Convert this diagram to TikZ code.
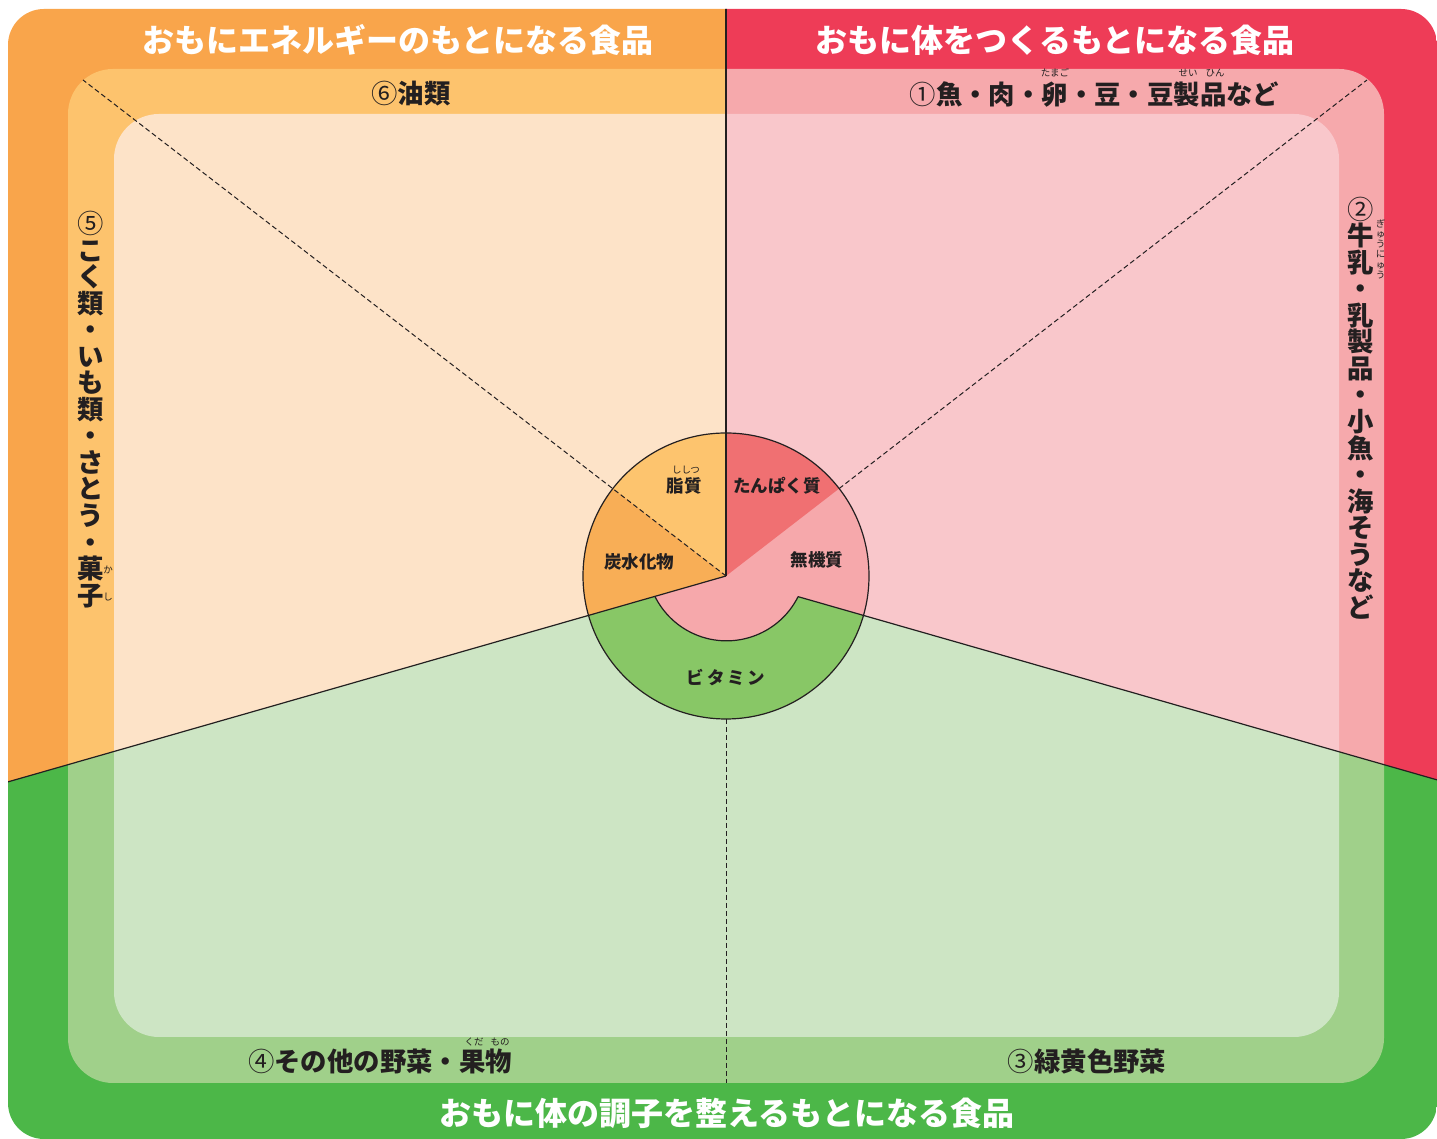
\documentclass[tikz,border=0pt]{standalone}
\usepackage{fontspec}
\newfontfamily\jp{Noto Sans CJK JP}
\usetikzlibrary{calc}
\definecolor{oA}{HTML}{F9A54B}
\definecolor{rA}{HTML}{EE3C57}
\definecolor{gA}{HTML}{4CB748}
\definecolor{oB}{HTML}{FDC36D}
\definecolor{rB}{HTML}{F6A9AC}
\definecolor{gB}{HTML}{A0D08A}
\definecolor{oC}{HTML}{FDE3C8}
\definecolor{rC}{HTML}{F9C7CB}
\definecolor{gC}{HTML}{CDE5C4}
\definecolor{fatc}{HTML}{FDC46E}
\definecolor{carbc}{HTML}{F8AE56}
\definecolor{protc}{HTML}{F07072}
\definecolor{minc}{HTML}{F6A8AB}
\definecolor{vitc}{HTML}{88C766}
\definecolor{ink}{HTML}{231F20}
\def\fillregions#1#2#3{%
  \fill[#1] (C) -- ($(C)+(196:1500)$) |- (726,2000) -- cycle;
  \fill[#2] (C) -- ($(C)+(-16:1500)$) |- (726,2000) -- cycle;
  \fill[#3] (C) -- ($(C)+(196:1500)$) -- (-800,-1000) -- (2300,-1000) -- ($(C)+(-16:1500)$) -- cycle;
}
\def\circnum#1{{\mdseries #1}}
\begin{document}
\begin{tikzpicture}[x=1pt,y=1pt,
  hdr/.style={text=white,font=\jp\bfseries\fontsize{32}{32}\selectfont,inner sep=0pt},
  lbl/.style={text=ink,font=\jp\bfseries\fontsize{26.4}{26.4}\selectfont,inner sep=0pt},
  vlbl/.style={text=ink,font=\jp\bfseries\fontsize{26.4}{26.55}\selectfont,inner sep=0pt,align=center},
  ruby/.style={text=ink,font=\jp\fontsize{9.5}{9.5}\selectfont,inner sep=0pt},
  pielbl/.style={text=ink,font=\jp\bfseries\fontsize{17.5}{17.5}\selectfont,inner sep=0pt},
  edgeline/.style={draw=ink,line width=1.2pt},
  dashline/.style={draw=ink,line width=1pt,dash pattern=on 5pt off 3pt}]
\useasboundingbox (0,0) rectangle (1437,1139);
\coordinate (C) at (726,563);
% three nested layers
\begin{scope}
  \clip[rounded corners=36pt] (8,0) rectangle (1437,1130);
  \fillregions{oA}{rA}{gA}
\end{scope}
\begin{scope}
  \clip[rounded corners=45pt] (68,56) rectangle (1384,1070);
  \fillregions{oB}{rB}{gB}
\end{scope}
\begin{scope}
  \clip[rounded corners=45pt] (114,102) rectangle (1339,1025);
  \fillregions{oC}{rC}{gC}
\end{scope}
% pie
\fill[minc] (C) circle[radius=143];
\fill[fatc] (C) -- ($(C)+(90:143)$) arc[start angle=90,end angle=142.35,radius=143] -- cycle;
\fill[carbc] (C) -- ($(C)+(142.35:143)$) arc[start angle=142.35,end angle=196,radius=143] -- cycle;
\fill[protc] (C) -- ($(C)+(37.7:143)$) arc[start angle=37.7,end angle=90,radius=143] -- cycle;
\fill[vitc] ($(C)+(196:143)$) arc[start angle=196,end angle=344,radius=143] -- ($(C)+(-16:75)$) arc[start angle=-26.6,end angle=-153.4,radius=80] -- cycle;
% dashed guides
\draw[dashline] (C) -- (83,1059);
\draw[dashline] ($(C)+(37.7:143)$) -- (1367,1059);
\draw[dashline] (726,420) -- (726,56);
% solid boundaries
\begin{scope}
  \clip[rounded corners=36pt] (8,0) rectangle (1437,1130);
  \draw[edgeline] (C) -- (726,1140);
  \draw[edgeline] (C) -- ($(C)+(196:800)$);
  \draw[edgeline] ($(C)+(-16:75)$) -- ($(C)+(-16:800)$);
\end{scope}
\draw[edgeline] ($(C)+(-16:75)$) arc[start angle=-26.6,end angle=-153.4,radius=80];
\draw[edgeline] (C) circle[radius=143];
% headers
\node[hdr] (h1) at (398,1099) {おもにエネルギーのもとになる食品};
\node[hdr] (h2) at (1055,1099) {おもに体をつくるもとになる食品};
\node[hdr] (h3) at (727,26) {おもに体の調子を整えるもとになる食品};
% horizontal labels
\node[lbl] (l6) at (411,1045) {\circnum{⑥}油類};
\node[lbl] (l1) at (1094.5,1045) {\circnum{①}魚・肉・卵・豆・豆製品など};
\node[ruby] (r1a) at (1055,1066) {たまご};
\node[ruby] (r1b) at (1188,1066) {せい};
\node[ruby] (r1c) at (1215,1066) {ひん};
\node[lbl] (l4) at (380,78) {\circnum{④}その他の野菜・果物};
\node[ruby] (r4a) at (474,97) {くだ};
\node[ruby] (r4b) at (500,97) {もの};
\node[lbl] (l3) at (1087,78) {\circnum{③}緑黄色野菜};
% vertical labels
\node[vlbl] (v5) at (91,729.5) {\circnum{⑤}\\こ\\く\\類\\・\\い\\も\\類\\・\\さ\\と\\う\\・\\菓\\子};
\node[ruby,align=center,font=\jp\fontsize{9.5}{27}\selectfont] (r5) at (108,555.5) {か\\し};
\node[vlbl] (v2) at (1361,731) {\circnum{②}\\牛\\乳\\・\\乳\\製\\品\\・\\小\\魚\\・\\海\\そ\\う\\な\\ど};
\node[ruby,align=center,font=\jp\fontsize{9.5}{10.3}\selectfont] (r2) at (1380.5,890) {ぎ\\ゅ\\う\\に\\ゅ\\う};
% pie labels
\node[pielbl] (p1) at (684,653) {脂質};
\node[ruby] (p1r) at (686,669) {ししつ};
\node[pielbl] (p2) at (777,653) {たんぱく質};
\node[pielbl] (p3) at (639,577) {炭水化物};
\node[pielbl] (p4) at (817,579) {無機質};
\node[pielbl] (p5) at (726,461) {ビ\,タ\,ミ\,ン};
\end{tikzpicture}
\end{document}
